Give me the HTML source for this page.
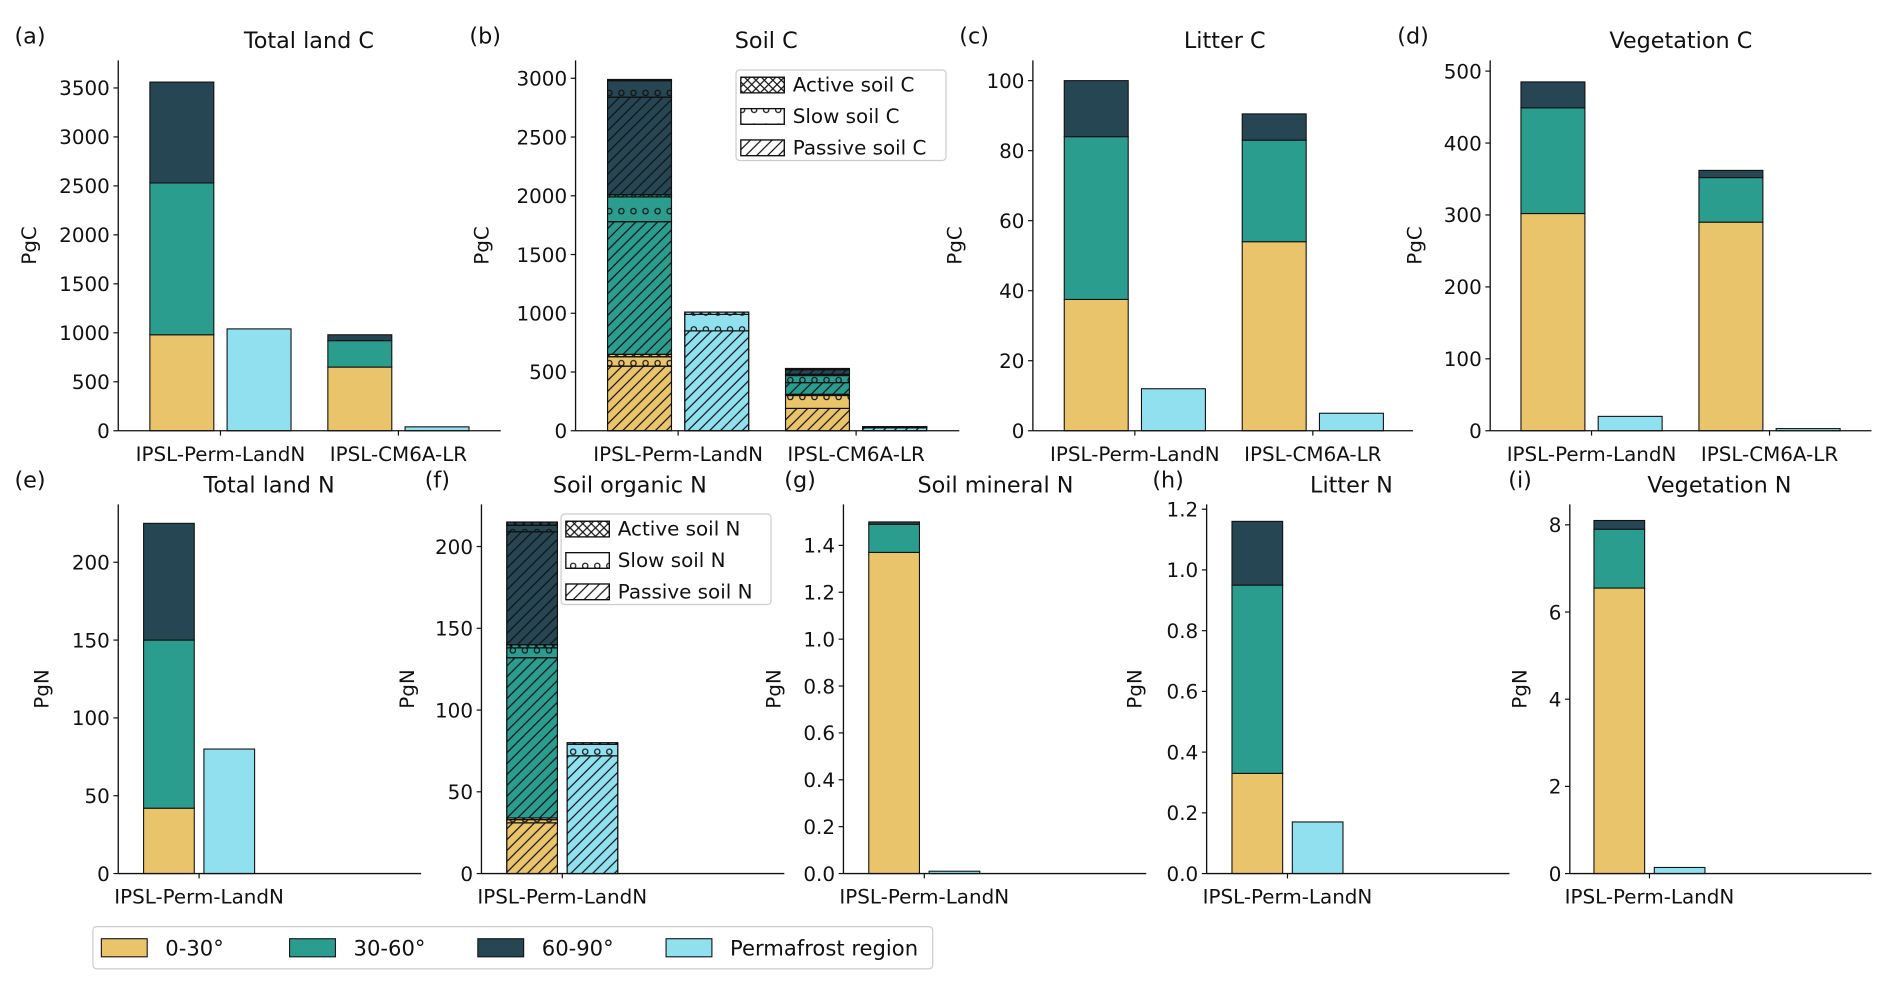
<!DOCTYPE html>
<html><head><meta charset="utf-8"><style>
html,body{margin:0;padding:0;background:#fff;}
svg{display:block;font-family:"DejaVu Sans","Liberation Sans",sans-serif;}
</style></head><body>
<svg id="fig" width="1892" height="990" viewBox="0 0 1568 820.5" preserveAspectRatio="none" xmlns="http://www.w3.org/2000/svg">
<defs>
<pattern id="p-diag" patternUnits="userSpaceOnUse" width="9" height="9"><path d="M-2,2 L2,-2 M0,9 L9,0 M7,11 L11,7" stroke="#111" stroke-width="1"/></pattern>
<pattern id="p-dots" patternUnits="userSpaceOnUse" width="10" height="14"><circle cx="5" cy="7" r="2.2" fill="none" stroke="#111" stroke-width="1"/></pattern>
<pattern id="p-cross" patternUnits="userSpaceOnUse" width="7" height="7"><path d="M0,0 L7,7 M7,0 L0,7" stroke="#111" stroke-width="1"/></pattern>
</defs>
</svg>
<script>
const C_Y="#E9C46A", C_T="#2A9D8F", C_D="#264653", C_P="#90E0EF";
const modelsTop=["IPSL-Perm-LandN","IPSL-CM6A-LR"];
const modelsBot=["IPSL-Perm-LandN"];
const totalC_lat=[[980,1550,1030],[650,270,60]];
const totalC_perm=[1040,40];
const soilC_lat=[[[550,80,20],[1130,210,20],[830,140,10]],[[190,110,10],[100,60,10],[40,8,2]]];
const soilC_perm=[[850,140,20],[25,8,2]];
const litterC_lat=[[37.5,46.5,16],[54,29,7.5]];
const litterC_perm=[12,5];
const vegC_lat=[[302,147,36],[290,62,10]];
const vegC_perm=[20,3];
const totalN_lat=[[42,108,75]];
const totalN_perm=[80];
const soilN_lat=[[[31,2,1],[98,6,2],[69,4,2]]];
const soilN_perm=[[72,7,1]];
const minN_lat=[[1.37,0.12,0.01]];
const minN_perm=[0.01];
const litterN_lat=[[0.33,0.62,0.21]];
const litterN_perm=[0.17];
const vegN_lat=[[6.55,1.35,0.2]];
const vegN_perm=[0.14];
const ticksA=[0,500,1000,1500,2000,2500,3000,3500];
const ticksB=[0,500,1000,1500,2000,2500,3000];
const ticksC=[0,20,40,60,80,100];
const ticksD=[0,100,200,300,400,500];
const ticksE=[0,50,100,150,200];
const ticksG=[0,0.2,0.4,0.6,0.8,1.0,1.2,1.4];
const ticksH=[0,0.2,0.4,0.6,0.8,1.0,1.2];
const ticksI=[0,2,4,6,8];

const NS="http://www.w3.org/2000/svg";
const svg=document.getElementById('fig');
function mk(tag,attrs,parent){const e=document.createElementNS(NS,tag);for(const k in attrs)e.setAttribute(k,attrs[k]);(parent||svg).appendChild(e);return e;}
function txt(s,attrs,parent){const e=mk('text',attrs,parent);e.textContent=s;return e;}
const latColors=[C_Y,C_T,C_D];
const poolHatch=['p-diag','p-dots','p-cross'];
const FS=16.5;

function panel(p){
  const g=mk('g',{});
  
  
  const ys=v=>p.y0-v*(p.y0-p.yTop)/p.ymax;
  const xt=i=>p.tick0+i*p.step;
  p.models.forEach((m,i)=>{
    const bars=[{x:xt(i)-p.off, segs:[]},{x:xt(i)+p.off, segs:[]}];
    if(p.soil){
      p.lat[i].forEach((band,b)=>band.forEach((v,k)=>bars[0].segs.push({v:v,c:latColors[b],h:poolHatch[k]})));
      p.perm[i].forEach((v,k)=>bars[1].segs.push({v:v,c:C_P,h:poolHatch[k]}));
    } else {
      p.lat[i].forEach((v,b)=>bars[0].segs.push({v:v,c:latColors[b]}));
      bars[1].segs.push({v:p.perm[i],c:C_P});
    }
    bars.forEach((bar,bi)=>{
      let base=0;
      bar.segs.forEach(s=>{
        const y1=ys(base+s.v), y0=ys(base);
        const r=mk('rect',{x:bar.x-p.bw/2,y:y1,width:p.bw,height:Math.max(0,y0-y1),fill:s.c,stroke:'#111','stroke-width':0.9},g);
        
        
        if(s.h){const h=mk('rect',{x:bar.x-p.bw/2,y:y1,width:p.bw,height:Math.max(0,y0-y1),fill:'url(#'+s.h+')',stroke:'#111','stroke-width':0.9},g);
          
          }
        base+=s.v;
      });
    });
    mk('line',{x1:xt(i),x2:xt(i),y1:p.y0,y2:p.y0+4,stroke:'#111','stroke-width':1},g);
    const t=txt(m,{x:xt(i),y:p.y0+25,'font-size':FS,'text-anchor':'middle',fill:'#111'},g);
    
    
  });
  mk('line',{x1:p.ax,x2:p.ax,y1:p.yTop,y2:p.y0,stroke:'#111','stroke-width':1.1},g);
  mk('line',{x1:p.ax,x2:p.axEnd,y1:p.y0,y2:p.y0,stroke:'#111','stroke-width':1.1},g);
  p.ticks.forEach(v=>{
    const y=ys(v);
    mk('line',{x1:p.ax-4,x2:p.ax,y1:y,y2:y,stroke:'#111','stroke-width':1},g);
    const t=txt(p.dec?v.toFixed(1):String(v),{x:p.ax-7,y:y+6,'font-size':FS,'text-anchor':'end',fill:'#111'},g);
    
    
  });
  const yl=txt(p.unit,{x:0,y:0,'font-size':FS,'text-anchor':'middle',fill:'#111',transform:'translate('+p.ylx+','+((p.y0+p.yTop)/2)+') rotate(-90)'},g);
  
  
  const ti=txt(p.title,{x:p.tx,y:p.ty,'font-size':18.5,'text-anchor':'middle',fill:'#111'},g);
  
  
  const le=txt(p.letter,{x:p.lx,y:p.ty-4,'font-size':18.5,fill:'#111'},g);
  
  
}
const T={y0:357,yTop:50,bw:53,off:32,step:147.5,ty:40};
const B={y0:724,yTop:418,bw:42,off:25,step:147.5,ty:408};
panel(Object.assign({},T,{name:'panel-total-land-c',models:modelsTop,lat:totalC_lat,perm:totalC_perm,ax:98,axEnd:415,tick0:182.7,ymax:3782,ticks:ticksA,unit:'PgC',ylx:30,title:'Total land C',tx:256,letter:'(a)',lx:12}));
panel(Object.assign({},T,{name:'panel-soil-c',soil:true,models:modelsTop,lat:soilC_lat,perm:soilC_perm,ax:477,axEnd:795,tick0:562,ymax:3153,ticks:ticksB,unit:'PgC',ylx:405,title:'Soil C',tx:635,letter:'(b)',lx:389}));
panel(Object.assign({},T,{name:'panel-litter-c',models:modelsTop,lat:litterC_lat,perm:litterC_perm,ax:856,axEnd:1171,tick0:940.5,ymax:105.8,ticks:ticksC,unit:'PgC',ylx:797,title:'Litter C',tx:1015,letter:'(c)',lx:795}));
panel(Object.assign({},T,{name:'panel-vegetation-c',models:modelsTop,lat:vegC_lat,perm:vegC_perm,ax:1235,axEnd:1551,tick0:1319,ymax:515,ticks:ticksD,unit:'PgC',ylx:1178,title:'Vegetation C',tx:1393,letter:'(d)',lx:1158}));
panel(Object.assign({},B,{name:'panel-total-land-n',models:modelsBot,lat:totalN_lat,perm:totalN_perm,ax:98,axEnd:349,tick0:165,ymax:237.2,ticks:ticksE,unit:'PgN',ylx:40,title:'Total land N',tx:223,letter:'(e)',lx:12}));
panel(Object.assign({},B,{name:'panel-soil-organic-n',soil:true,models:modelsBot,lat:soilN_lat,perm:soilN_perm,ax:399,axEnd:650,tick0:466,ymax:225.8,ticks:ticksE,unit:'PgN',ylx:343,title:'Soil organic N',tx:522,letter:'(f)',lx:352}));
panel(Object.assign({},B,{name:'panel-soil-mineral-n',models:modelsBot,lat:minN_lat,perm:minN_perm,ax:699,axEnd:950,tick0:766,ymax:1.575,ticks:ticksG,dec:true,unit:'PgN',ylx:647,title:'Soil mineral N',tx:825,letter:'(g)',lx:650}));
panel(Object.assign({},B,{name:'panel-litter-n',models:modelsBot,lat:litterN_lat,perm:litterN_perm,ax:1000,axEnd:1251,tick0:1067,ymax:1.216,ticks:ticksH,dec:true,unit:'PgN',ylx:946,title:'Litter N',tx:1120,letter:'(h)',lx:955}));
panel(Object.assign({},B,{name:'panel-vegetation-n',models:modelsBot,lat:vegN_lat,perm:vegN_perm,ax:1301,axEnd:1551,tick0:1367,ymax:8.47,ticks:ticksI,unit:'PgN',ylx:1265,title:'Vegetation N',tx:1425,letter:'(i)',lx:1250}));

function poolLegend(name,x,y,labels){
  const g=mk('g',{});
  
  
  mk('rect',{x:x,y:y,width:174,height:75,rx:3,fill:'#fff','fill-opacity':0.85,stroke:'#ccc','stroke-width':1},g);
  ['p-cross','p-dots','p-diag'].forEach((h,i)=>{
    const yy=y+6+i*26;
    mk('rect',{x:x+4,y:yy,width:36,height:13,fill:'#fff',stroke:'#111','stroke-width':1},g);
    mk('rect',{x:x+4,y:yy,width:36,height:13,fill:'url(#'+h+')',stroke:'#111','stroke-width':1},g);
    const t=txt(labels[i],{x:x+47,y:yy+12,'font-size':FS,fill:'#111'},g);
    
    
  });
}
poolLegend('soil-c-legend',610,58,['Active soil C','Slow soil C','Passive soil C']);
poolLegend('soil-n-legend',465,426,['Active soil N','Slow soil N','Passive soil N']);

const lg=mk('g',{});


mk('rect',{x:77,y:768,width:696,height:35,rx:3,fill:'#fff',stroke:'#ccc','stroke-width':1},lg);
const legLabels=['0-30°','30-60°','60-90°','Permafrost region'];
const legColors=[C_Y,C_T,C_D,C_P];
legLabels.forEach((l,i)=>{
  const x=84+i*156;
  mk('rect',{x:x,y:778,width:38,height:15,fill:legColors[i],stroke:'#111','stroke-width':0.9},lg);
  const t=txt(l,{x:x+53,y:792,'font-size':17.5,fill:'#111'},lg);
  
  
});
</script>
</body></html>
